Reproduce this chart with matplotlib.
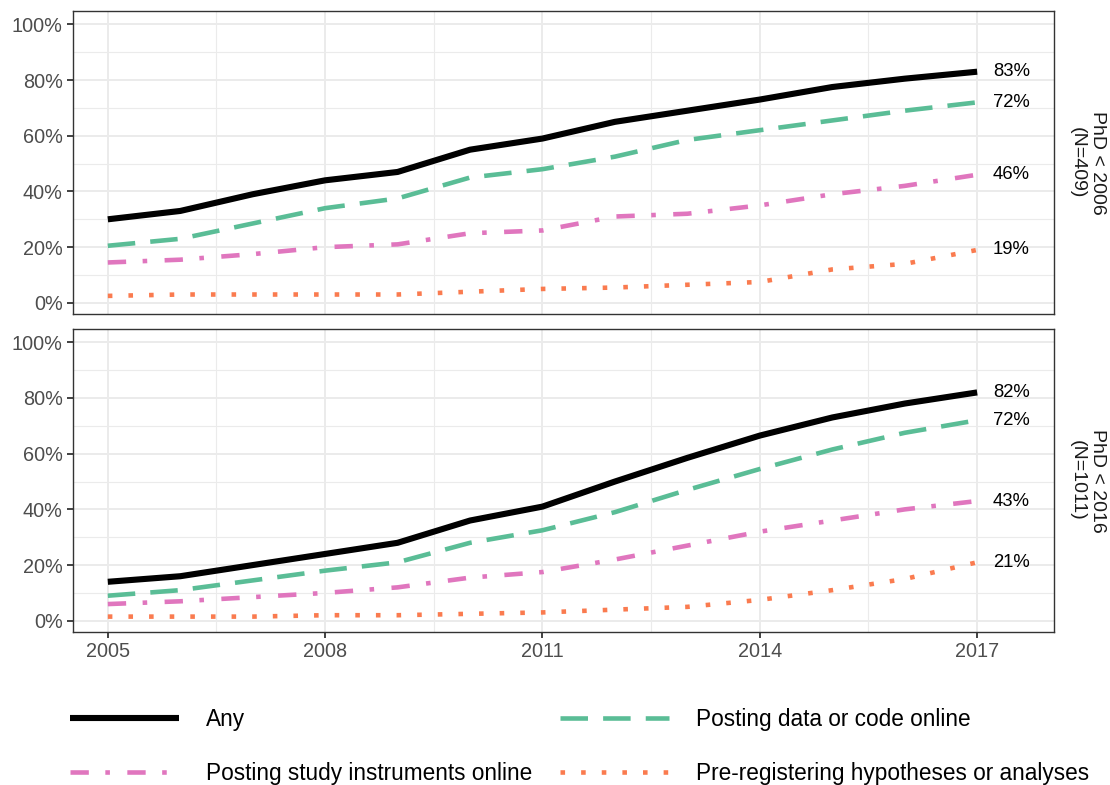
import matplotlib.pyplot as plt
from matplotlib.ticker import FuncFormatter, FixedLocator, MultipleLocator

plt.rcParams["font.family"] = ["Liberation Sans", "DejaVu Sans"]

years = list(range(2005, 2018))
year_ticks = [2005, 2008, 2011, 2014, 2017]
panels = ["PhD < 2006\n(N=409)", "PhD < 2016\n(N=1011)"]

# panel 1: PhD < 2006
any_1 = [0.30, 0.33, 0.39, 0.44, 0.47, 0.55, 0.59, 0.65, 0.69, 0.73, 0.775, 0.805, 0.83]
data_1 = [0.205, 0.23, 0.285, 0.34, 0.375, 0.45, 0.48, 0.525, 0.585, 0.62, 0.655, 0.69, 0.72]
instr_1 = [0.145, 0.155, 0.175, 0.20, 0.21, 0.25, 0.26, 0.31, 0.32, 0.35, 0.39, 0.42, 0.46]
prereg_1 = [0.025, 0.03, 0.03, 0.03, 0.03, 0.04, 0.05, 0.055, 0.065, 0.075, 0.12, 0.14, 0.19]

# panel 2: PhD < 2016
any_2 = [0.14, 0.16, 0.20, 0.24, 0.28, 0.36, 0.41, 0.50, 0.585, 0.665, 0.73, 0.78, 0.82]
data_2 = [0.09, 0.11, 0.145, 0.18, 0.21, 0.28, 0.325, 0.39, 0.47, 0.545, 0.615, 0.675, 0.72]
instr_2 = [0.06, 0.07, 0.085, 0.10, 0.12, 0.155, 0.175, 0.22, 0.27, 0.32, 0.36, 0.40, 0.43]
prereg_2 = [0.015, 0.015, 0.015, 0.02, 0.02, 0.025, 0.03, 0.04, 0.05, 0.075, 0.11, 0.15, 0.21]

labels = ["Any", "Posting data or code online",
          "Posting study instruments online", "Pre-registering hypotheses or analyses"]
colors = ["black", "#5ABD96", "#E076BE", "#FA7B4F"]
widths = [4.4, 3.3, 3.3, 3.3]
styles = ["-", (0, (6.0, 3.3)), (0, (4.0, 3.6, 1.0, 3.8)), (0, (1.0, 3.5))]

series = [[any_1, data_1, instr_1, prereg_1], [any_2, data_2, instr_2, prereg_2]]

fig = plt.figure(figsize=(11.1, 7.85), dpi=100)
axes = [fig.add_axes([0.0658, 0.600, 0.8837, 0.386]),
        fig.add_axes([0.0658, 0.195, 0.8837, 0.386])]

handles = []
for ax, vals, strip in zip(axes, series, panels):
    for v, lab, c, lw, ls in zip(vals, labels, colors, widths, styles):
        h, = ax.plot(years, v, color=c, lw=lw, linestyle=ls, label=lab,
                     solid_capstyle="butt", dash_capstyle="butt", zorder=3)
        if ax is axes[0]:
            handles.append(h)
        ax.text(years[-1] + 0.22, v[-1], f"{round(v[-1] * 100):.0f}%",
                ha="left", va="center", fontsize=13.3, color="black")

    ax.set_xlim(2004.52, 2018.06)
    ax.set_ylim(-0.04, 1.048)
    ax.yaxis.set_major_locator(MultipleLocator(0.2))
    ax.yaxis.set_minor_locator(MultipleLocator(0.1))
    ax.xaxis.set_major_locator(FixedLocator(year_ticks))
    ax.xaxis.set_minor_locator(FixedLocator([y + 1.5 for y in year_ticks[:-1]]))
    ax.yaxis.set_major_formatter(FuncFormatter(lambda y, _: f"{y * 100:.0f}%"))
    ax.grid(which="major", color="#EBEBEB", lw=1.4, zorder=0)
    ax.grid(which="minor", color="#EBEBEB", lw=0.8, zorder=0)
    ax.set_axisbelow(True)
    ax.tick_params(which="major", length=4.5, width=1.3, color="#333333",
                   labelsize=14.3, labelcolor="#4D4D4D", pad=3)
    ax.tick_params(which="minor", length=0)
    for s in ax.spines.values():
        s.set_color("#333333")
        s.set_linewidth(1.0)
    ax.text(1.034, 0.5, strip, transform=ax.transAxes, rotation=-90,
            ha="center", va="center", fontsize=14, color="#1A1A1A",
            linespacing=1.2)

axes[0].tick_params(axis="x", labelbottom=False, length=0)

order = [0, 2, 1, 3]
fig.legend([handles[i] for i in order], [labels[i] for i in order],
           ncol=2, loc="center left", bbox_to_anchor=(0.063, 0.049),
           frameon=False, fontsize=16.3, handlelength=4.8, handletextpad=1.2,
           columnspacing=1.24, labelspacing=1.4, borderpad=0, borderaxespad=0)

fig.savefig("out.png", dpi=100)
